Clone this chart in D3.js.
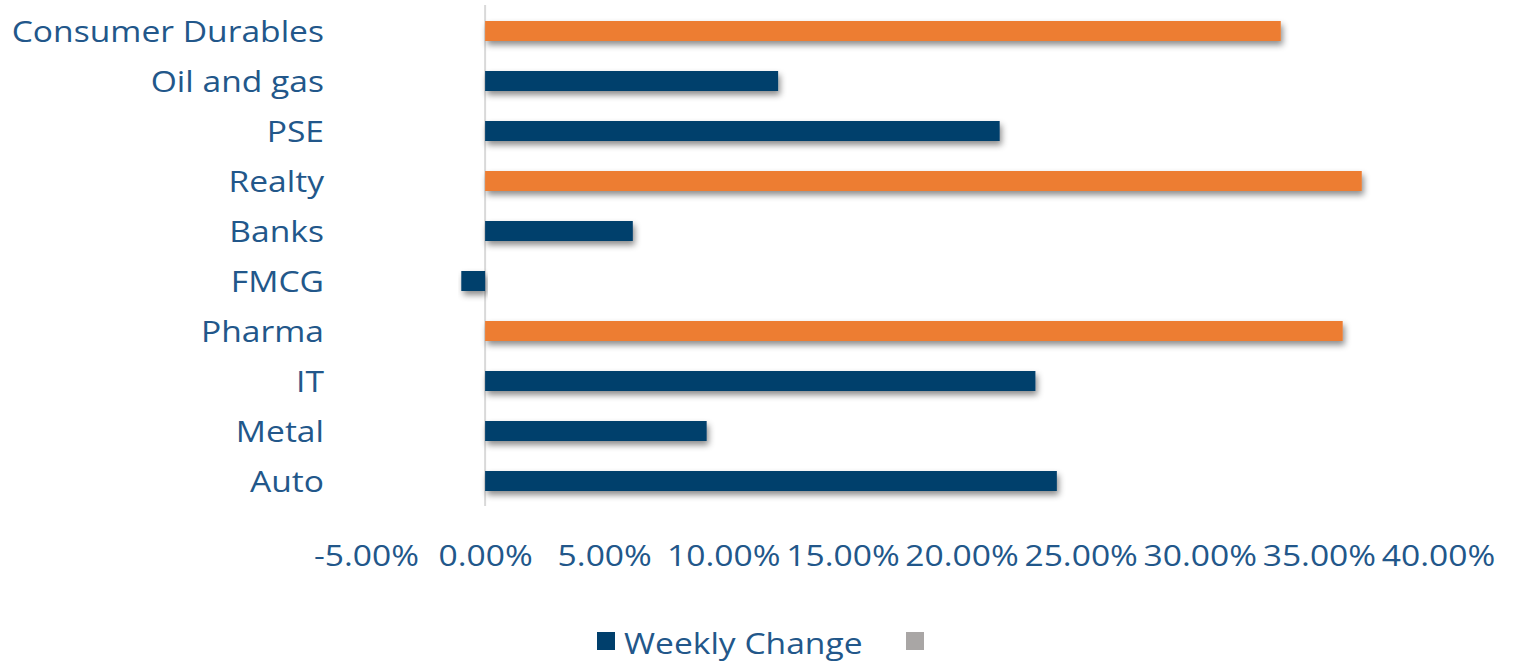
<!DOCTYPE html>
<html lang="en">
<head>
    <meta charset="UTF-8">
    <title>Weekly Change by Sector</title>
    <script src="https://d3js.org/d3.v7.min.js"></script>
    <style>
        body { margin: 0; background: #fff; }
        svg { display: block; }
        text { font-family: "Open Sans", sans-serif; fill: #22578a; }
    </style>
</head>
<body>
    <svg width="1515" height="662"></svg>

    <script>
        // data, top to bottom
        const categories = ["Consumer Durables", "Oil and gas", "PSE", "Realty", "Banks",
                            "FMCG", "Pharma", "IT", "Metal", "Auto"];
        const weeklyChange = [0.334, 0.123, 0.216, 0.368, 0.062, -0.010, 0.360, 0.231, 0.093, 0.240];
        const highlighted = ["Consumer Durables", "Realty", "Pharma"];
        const tickValues = [-0.05, 0, 0.05, 0.10, 0.15, 0.20, 0.25, 0.30, 0.35, 0.40];
        const legendLabels = ["Weekly Change", ""];

        const blue = "#003f6c", orange = "#ed7d31", grey = "#a9a6a5";
        const fontSize = "30px";
        const stretch = 1.12;   // text in the picture is wider than the font

        const svg = d3.select("svg");

        const defs = svg.append("defs");
        const f = defs.append("filter").attr("id", "shadow")
            .attr("x", "-10%").attr("y", "-60%").attr("width", "120%").attr("height", "260%");
        f.append("feDropShadow").attr("dx", 2).attr("dy", 4).attr("stdDeviation", 3)
            .attr("flood-color", "#000").attr("flood-opacity", 0.45);

        const x = d3.scaleLinear().domain([-0.05, 0.40]).range([366, 1438]);
        const y = d3.scaleBand().domain(categories).range([6, 506])
            .paddingInner(0.6).paddingOuter(0.3);

        const rows = categories.map((c, i) => ({ name: c, value: weeklyChange[i] }));

        // zero line
        svg.append("line")
            .attr("x1", x(0)).attr("x2", x(0))
            .attr("y1", 5).attr("y2", 506)
            .attr("stroke", "#d9d9d9").attr("stroke-width", 2);

        // bars
        svg.append("g").selectAll("rect")
            .data(rows)
            .join("rect")
            .attr("x", d => x(Math.min(0, d.value)))
            .attr("y", d => y(d.name))
            .attr("width", d => Math.abs(x(d.value) - x(0)))
            .attr("height", y.bandwidth())
            .attr("fill", d => highlighted.includes(d.name) ? orange : blue)
            .attr("filter", "url(#shadow)");

        // category labels
        const yAxis = svg.append("g")
            .attr("transform", "translate(324,0)")
            .call(d3.axisLeft(y).tickSize(0).tickPadding(0));
        yAxis.select(".domain").remove();
        yAxis.selectAll("text")
            .attr("x", 0).attr("dy", "0.35em")
            .style("font-size", fontSize)
            .attr("transform", `scale(${stretch},1)`)
            .attr("fill", null);
        yAxis.attr("font-family", null).attr("font-size", null);

        // value axis labels
        const locale = d3.formatLocale({ decimal: ".", thousands: ",", grouping: [3], currency: ["", ""], minus: "-" });
        const xAxis = svg.append("g")
            .attr("transform", "translate(0,545)")
            .call(d3.axisBottom(x).tickValues(tickValues).tickSize(0).tickPadding(0)
                .tickFormat(locale.format(".2%")));
        xAxis.select(".domain").remove();
        xAxis.selectAll("text")
            .attr("y", 0).attr("dy", "0.71em")
            .style("font-size", fontSize)
            .attr("transform", `scale(${stretch},1)`)
            .attr("fill", null);
        xAxis.attr("font-family", null).attr("font-size", null);

        // legend
        const legend = svg.append("g").attr("transform", "translate(597,632)");
        legend.append("rect").attr("width", 18).attr("height", 18).attr("fill", blue);
        legend.append("text")
            .attr("transform", `translate(27,11) scale(${stretch},1)`)
            .attr("dy", "0.35em")
            .style("font-size", fontSize)
            .text(legendLabels[0]);
        legend.append("rect").attr("x", 309).attr("width", 18).attr("height", 18).attr("fill", grey);
    </script>
</body>
</html>
